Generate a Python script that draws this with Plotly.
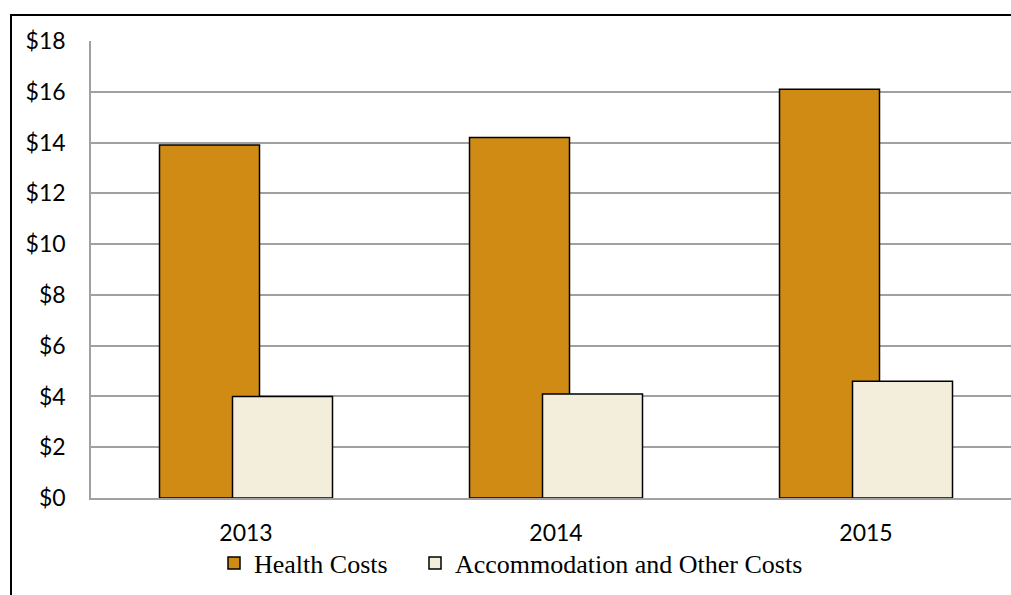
import plotly.graph_objects as go

years = ["2013", "2014", "2015"]
health_costs = [13.9, 14.2, 16.1]
accommodation_costs = [4.0, 4.1, 4.6]
y_ticks = [0, 2, 4, 6, 8, 10, 12, 14, 16, 18]
y_tick_labels = ["$" + str(v) for v in y_ticks]

W, H = 1011, 595
L, R, T, B = 91, 0, 41, 97
pw = W - L - R
ph = H - T - B
cat_px = 310.0

fig = go.Figure()
fig.add_trace(go.Bar(
    x=years, y=health_costs, name="Health Costs",
    marker=dict(color="#D08B14", line=dict(color="#000000", width=1.5)),
    width=100 / cat_px, offset=-86.5 / cat_px,
    legend="legend",
))
fig.add_trace(go.Bar(
    x=years, y=accommodation_costs, name="Accommodation and Other Costs",
    marker=dict(color="#F3EDDC", line=dict(color="#000000", width=1.5)),
    width=100 / cat_px, offset=-13.5 / cat_px,
    legend="legend2",
))

legend_common = dict(
    orientation="h",
    xanchor="left",
    y=(H - B - 563) / ph, yanchor="middle",
    font=dict(family="Liberation Serif", size=26, color="#000000"),
    bgcolor="rgba(0,0,0,0)",
    itemclick=False,
)

fig.update_layout(
    width=W, height=H,
    margin=dict(l=L, r=R, t=T, b=B, pad=0),
    paper_bgcolor="white", plot_bgcolor="white",
    barmode="overlay",
    showlegend=True,
    legend=dict(x=(214 - L) / pw, **legend_common),
    legend2=dict(x=(415 - L) / pw, **legend_common),
    font=dict(family="Lato", size=23, color="#000000"),
    shapes=[dict(
        type="rect", xref="paper", yref="paper",
        x0=(11 - L) / pw, x1=1.05,
        y0=-0.4, y1=(H - B - 15) / ph,
        line=dict(color="#000000", width=2),
        fillcolor="rgba(0,0,0,0)", layer="above",
    )],
)

fig.update_xaxes(
    type="category",
    range=[-0.5, -0.5 + pw / cat_px],
    showgrid=False, zeroline=False,
    showline=True, linecolor="#A0A0A0", linewidth=1.5,
    ticks="outside", ticklen=0, tickcolor="rgba(0,0,0,0)",
    ticklabelstandoff=14,
    tickfont=dict(family="Lato", size=23, color="#000000"),
)
fig.update_yaxes(
    range=[0, 18],
    tickvals=y_ticks, ticktext=y_tick_labels,
    showgrid=True, gridcolor="#A0A0A0", gridwidth=1.5,
    zeroline=False,
    showline=True, linecolor="#A0A0A0", linewidth=1.5,
    ticks="outside", ticklen=0, tickcolor="rgba(0,0,0,0)",
    ticklabelstandoff=19,
    tickfont=dict(family="Lato", size=23, color="#000000"),
)

fig.write_html("out.html")
